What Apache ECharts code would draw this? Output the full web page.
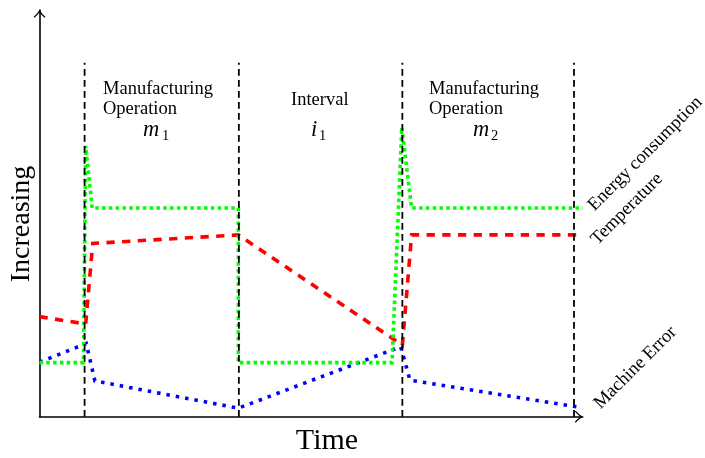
<!DOCTYPE html>
<html>
<head>
<meta charset="utf-8">
<script src="https://cdn.jsdelivr.net/npm/echarts@6/dist/echarts.min.js"></script>
<style>
html,body{margin:0;padding:0;background:#fff;}
#chart{width:705px;height:458px;}
</style>
</head>
<body>
<div id="chart"></div>
<script>
// ---- data (arbitrary units: time 0..100, level 0..100) ----
const phaseBoundaries = [8.3, 36.7, 66.8, 98.4];
const boundaryTop = 87;
const energyPoints = [[0,13.3],[8.1,13.3],[8.5,66.6],[9.7,51.3],[36.6,51.3],[36.6,13.3],[64.9,13.3],[66.7,71.1],[68.5,51.3],[100,51.3]];
const temperaturePoints = [[0,24.6],[8.5,22.8],[9.8,42.6],[36.6,44.7],[66.8,17.6],[68.5,44.7],[100,44.7]];
const machineErrorPoints = [[0,13.4],[8.6,18.0],[10.2,8.8],[36.6,2.1],[66.5,17.2],[68.2,9.0],[99.5,2.3]];
const seriesNames = ['Energy consumption', 'Temperature', 'Machine Error'];
const axisNames = ['Time', 'Increasing'];
const phaseLines = [['Manufacturing', 'Operation'], ['Interval'], ['Manufacturing', 'Operation']];
const phaseSymbols = [['m','1'], ['i','1'], ['m','2']];

const serif = 'Liberation Serif, Times New Roman, serif';
const chart = echarts.init(document.getElementById('chart'), null, {renderer:'canvas'});
const arrow = 'path://M0,7 Q3.5,4 6,0 Q8.5,4 12,7 L11.1,7.9 Q8,5.4 6,2.3 Q4,5.4 0.9,7.9 Z';

const series = [];
series.push({name: seriesNames[1], type:'line', data: temperaturePoints, symbol:'none', z:3,
  lineStyle:{color:'#ff0000', width:3.6, type:[8.3,7.4], cap:'butt', join:'miter'}});
series.push({name: seriesNames[2], type:'line', data: machineErrorPoints, symbol:'none', z:4,
  lineStyle:{color:'#0000ff', width:3.6, type:[3.5,6], cap:'butt', join:'miter'}});
series.push({name: seriesNames[0], type:'line', data: energyPoints, symbol:'none', z:5,
  lineStyle:{color:'#00ff00', width:3.6, type:[3.5,3.3], cap:'butt', join:'miter'}});
phaseBoundaries.forEach(function(b){
  series.push({type:'line', data:[[b,0],[b,boundaryTop]], symbol:'none', z:6,
    lineStyle:{color:'#000', width:1.8, type:[6.7,4.3], cap:'butt'}});
});

const graphic = [];
function txt(x, y, s, size, opts){
  opts = opts || {};
  graphic.push({type:'text', x:x, y:y, rotation: opts.rot || 0, z:10,
    style:{text:s, font:(opts.italic?'italic ':'') + size + 'px ' + serif, fill:'#000',
      textAlign: opts.align || 'left', textVerticalAlign: opts.va || 'middle'}});
}
txt(22, 224, axisNames[1], 28, {rot:Math.PI/2, align:'center'});
txt(327, 441, axisNames[0], 30, {align:'center'});
// phase labels
const phaseX = [103, 291, 429];
phaseLines.forEach(function(lines, i){
  if (lines.length === 2) {
    txt(phaseX[i], 88.7, lines[0], 18.5);
    txt(phaseX[i], 108.7, lines[1], 18.5);
  } else {
    txt(phaseX[i], 99.7, lines[0], 18.5);
  }
});
const symX = [[143,162],[311,319],[473,491]];
phaseSymbols.forEach(function(s, i){
  txt(symX[i][0], 130.5, s[0], 22.5, {italic:true});
  txt(symX[i][1], 136, s[1], 14.5);
});
// rotated series labels
txt(591, 208, seriesNames[0], 18.5, {rot:Math.PI/4});
txt(594, 242, seriesNames[1], 18.5, {rot:Math.PI/4});
txt(597, 406, seriesNames[2], 18.5, {rot:Math.PI/4});

chart.setOption({
  animation:false,
  backgroundColor:'#fff',
  grid:{left:39.5, right:122.3, top:10, bottom:41.3, containLabel:false, outerBoundsMode:'none'},
  xAxis:{type:'value', min:0, max:100, splitLine:{show:false}, axisTick:{show:false}, axisLabel:{show:false},
    axisLine:{show:true, onZero:false, lineStyle:{color:'#000', width:1.6}, symbol:['none', arrow], symbolSize:[12,7.9], symbolOffset:[0,-3.9]}},
  yAxis:{type:'value', min:0, max:100, splitLine:{show:false}, axisTick:{show:false}, axisLabel:{show:false},
    axisLine:{show:true, onZero:false, lineStyle:{color:'#000', width:1.6}, symbol:['none', arrow], symbolSize:[12,7.9], symbolOffset:[0,-3.9]}},
  series: series,
  graphic: graphic
});
</script>
</body>
</html>
